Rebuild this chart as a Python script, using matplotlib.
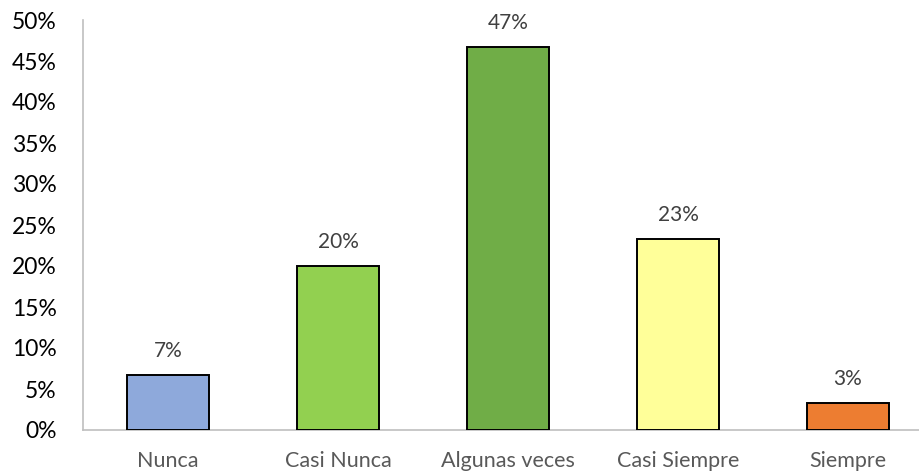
import matplotlib
matplotlib.use('Agg')
import matplotlib.pyplot as plt
import numpy as np

categories = ['Nunca', 'Casi Nunca', 'Algunas veces', 'Casi Siempre', 'Siempre']
values = [6.67, 20.0, 46.67, 23.33, 3.33]
labels = ['7%', '20%', '47%', '23%', '3%']
colors = ['#8EA9DB', '#92D050', '#70AD47', '#FFFF99', '#ED7D31']

plt.rcParams['font.family'] = ['Lato', 'DejaVu Sans']

fig = plt.figure(figsize=(9.19, 4.74), dpi=100)
ax = fig.add_axes([83/919, 44/474, 1 - 83/919, 410/474])

x = np.arange(len(categories))
bars = ax.bar(x, values, width=0.48, color=colors, edgecolor='black', linewidth=1.4, zorder=3)

for xi, v, lab in zip(x, values, labels):
    ax.annotate(lab, (xi, v), xytext=(0, 10), textcoords='offset points',
                ha='center', va='bottom', fontsize=15, color='#404040')

ax.set_ylim(0, 50)
ax.set_xlim(-0.5, 4.418)
ax.set_yticks(np.arange(0, 51, 5))
ax.set_yticklabels([f'{t}%' for t in range(0, 51, 5)])
ax.set_xticks(x)
ax.set_xticklabels(categories)

ax.tick_params(axis='y', length=0, pad=19, labelsize=16.5, labelcolor='black')
ax.tick_params(axis='x', length=0, pad=15, labelsize=15.5, labelcolor='#595959')

for s in ['top', 'right']:
    ax.spines[s].set_visible(False)
ax.spines['left'].set_color('#BFBFBF')
ax.spines['bottom'].set_color('#BFBFBF')
ax.spines['left'].set_linewidth(1.2)
ax.spines['bottom'].set_linewidth(1.2)

fig.savefig('out.png', dpi=100)
